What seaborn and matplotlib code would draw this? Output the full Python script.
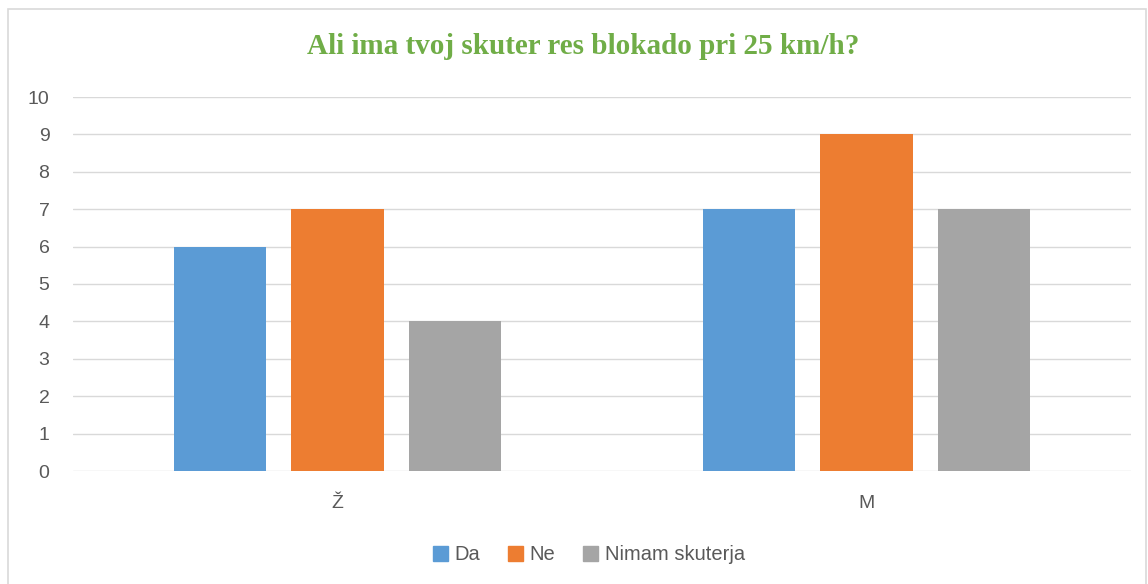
import pandas as pd
import seaborn as sns
import matplotlib.pyplot as plt
from matplotlib.patches import Rectangle

# Data
categories = ["Ž", "M"]
answers = ["Da", "Ne", "Nimam skuterja"]
da_values = [6, 7]
ne_values = [7, 9]
nimam_values = [4, 7]
colors = ["#5B9BD5", "#ED7D31", "#A5A5A5"]

df = pd.DataFrame({
    "spol": categories * 3,
    "odgovor": [a for a in answers for _ in categories],
    "stevilo": da_values + ne_values + nimam_values,
})

sns.set_theme(style="white")
plt.rcParams["font.family"] = ["Liberation Sans", "DejaVu Sans"]

fig = plt.figure(figsize=(11.48, 5.84), dpi=100)
ax = fig.add_axes([73 / 1148, 1 - 471 / 584, (1131 - 73) / 1148, (471 - 97) / 584])

sns.barplot(data=df, x="spol", y="stevilo", hue="odgovor", order=categories,
            hue_order=answers, palette=colors, width=0.664, gap=0.213,
            saturation=1, linewidth=0, ax=ax, legend=False)

ax.set_ylim(0, 10)
ax.set_yticks(range(0, 11))
ax.set_xlim(-0.5, 1.5)
ax.yaxis.grid(True, color="#D9D9D9", linewidth=1)
ax.set_axisbelow(True)
for s in ax.spines.values():
    s.set_visible(False)
ax.set_xlabel("")
ax.set_ylabel("")
ax.tick_params(axis="both", length=0, labelsize=14, labelcolor="#595959")
ax.tick_params(axis="y", pad=17)
ax.tick_params(axis="x", pad=17)

fig.text(0.508, 1 - 46 / 584, "Ali ima tvoj skuter res blokado pri 25 km/h?",
         ha="center", va="center", fontsize=21, fontweight="bold",
         color="#70AD47", family="Liberation Serif")

handles = [Rectangle((0, 0), 1, 1, color=c) for c in colors]
fig.legend(handles, answers, loc="center", bbox_to_anchor=(0.513, 1 - 555 / 584),
           ncol=3, frameon=False, handlelength=0.75, handleheight=0.75,
           handletextpad=0.3, columnspacing=1.4, fontsize=14.5, labelcolor="#595959")

fig.patches.append(Rectangle((8 / 1148, -0.01), (1146 - 8) / 1148, 1.01 - 9 / 584,
                             transform=fig.transFigure, fill=False,
                             edgecolor="#D9D9D9", linewidth=1.2))

fig.savefig("out.png", dpi=100)
